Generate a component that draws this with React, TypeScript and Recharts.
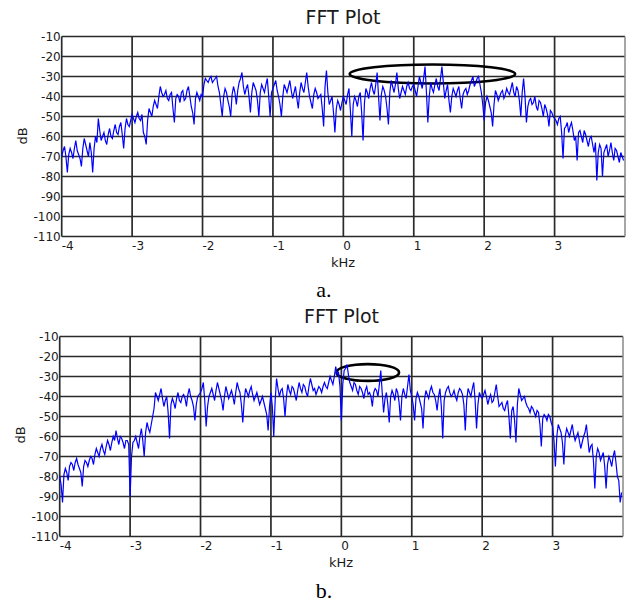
import { LineChart, Line, XAxis, YAxis, CartesianGrid, ReferenceLine, ReferenceArea } from "recharts";

// FFT bins: 0.02 kHz apart, starting at -4 kHz (one row = 1 kHz)
const startKHz = -4;
const binKHz = 0.02;

const xTicks = [-4, -3, -2, -1, 0, 1, 2, 3];
const yTicks = [-10, -20, -30, -40, -50, -60, -70, -80, -90, -100, -110];

// plot a. magnitude (dB)
const dbA = [
	-70, -67, -65, -70, -78, -69, -66, -68, -71, -66, -62, -67, -69, -71, -75, -66, -61, -64, -67, -70, -63, -68, -78, -66, -60, -63, -51, -57, -62, -60, -58, -62, -64, -59, -56, -60, -61, -57, -54, -58, -59, -55, -53, -59, -66, -56, -51, -54, -55, -52,
	-49, -51, -53, -50, -48, -51, -52, -49, -58, -60, -64, -52, -46, -48, -50, -45, -42, -44, -46, -40, -35, -38, -40, -39, -37, -41, -42, -39, -38, -46, -53, -41, -39, -40, -43, -38, -37, -42, -41, -37, -35, -40, -45, -48, -54, -41, -38, -40, -42, -39,
	-40, -34, -31, -32, -33, -31, -30, -33, -32, -31, -30, -35, -38, -44, -50, -40, -36, -38, -42, -45, -50, -39, -35, -38, -44, -37, -33, -31, -28, -35, -39, -36, -34, -40, -48, -38, -33, -35, -37, -42, -50, -38, -34, -36, -38, -34, -31, -40, -50, -38,
	-36, -34, -32, -37, -40, -44, -50, -40, -34, -36, -38, -35, -32, -37, -41, -38, -35, -41, -46, -38, -33, -36, -38, -33, -28, -35, -40, -43, -46, -39, -36, -38, -41, -40, -39, -46, -55, -35, -27, -38, -44, -42, -40, -48, -58, -46, -42, -44, -47, -43,
	-40, -42, -44, -39, -36, -47, -60, -44, -40, -42, -45, -40, -38, -48, -62, -43, -36, -38, -41, -36, -33, -37, -39, -34, -28, -40, -52, -39, -35, -37, -40, -46, -54, -38, -32, -35, -38, -34, -28, -36, -41, -38, -35, -37, -39, -35, -33, -36, -37, -35,
	-34, -37, -40, -35, -30, -33, -36, -31, -25, -38, -53, -40, -33, -36, -38, -34, -31, -35, -37, -31, -25, -33, -41, -37, -34, -42, -48, -40, -36, -38, -40, -37, -35, -41, -46, -39, -37, -36, -39, -37, -34, -32, -30, -35, -33, -31, -30, -34, -38, -44,
	-52, -43, -40, -42, -45, -48, -55, -44, -37, -39, -42, -40, -38, -37, -41, -39, -36, -38, -39, -36, -33, -38, -40, -35, -37, -42, -50, -38, -31, -40, -53, -45, -42, -41, -44, -43, -40, -45, -47, -42, -43, -46, -50, -44, -46, -49, -55, -47, -48, -50,
	-51, -52, -54, -51, -50, -58, -71, -56, -55, -53, -58, -55, -53, -57, -62, -60, -72, -58, -57, -60, -63, -57, -59, -62, -65, -61, -60, -64, -68, -63, -82, -68, -64, -66, -80, -68, -66, -64, -70, -67, -63, -68, -72, -66, -67, -70, -73, -68, -70, -72,
];

// plot b. magnitude (dB)
const dbB = [
	-80, -84, -93, -79, -76, -78, -82, -75, -73, -74, -77, -73, -71, -74, -76, -78, -85, -75, -72, -73, -75, -72, -70, -71, -74, -69, -66, -68, -70, -66, -64, -67, -69, -65, -62, -64, -67, -63, -60, -62, -57, -61, -64, -60, -61, -63, -66, -62, -62, -64,
	-90, -70, -63, -62, -60, -63, -66, -60, -56, -62, -70, -58, -53, -56, -58, -54, -50, -46, -38, -40, -42, -39, -36, -41, -45, -42, -40, -48, -61, -44, -41, -43, -46, -41, -38, -42, -43, -40, -39, -41, -45, -39, -36, -40, -42, -45, -52, -44, -40, -39,
	-38, -36, -33, -42, -55, -45, -40, -38, -36, -39, -42, -37, -33, -36, -39, -42, -47, -40, -35, -38, -41, -39, -37, -40, -44, -38, -33, -36, -38, -44, -53, -42, -36, -38, -40, -37, -35, -39, -42, -40, -38, -41, -44, -42, -40, -43, -46, -49, -57, -45,
	-38, -45, -60, -42, -31, -36, -40, -37, -36, -41, -50, -40, -34, -37, -39, -35, -36, -39, -42, -37, -33, -36, -38, -34, -35, -38, -40, -35, -31, -34, -37, -36, -39, -37, -35, -36, -38, -35, -33, -35, -36, -33, -30, -32, -34, -30, -25, -29, -28, -35,
	-52, -34, -27, -26, -24, -29, -33, -35, -37, -33, -34, -37, -39, -35, -36, -38, -41, -37, -35, -39, -38, -40, -45, -38, -36, -37, -40, -34, -27, -38, -48, -41, -38, -44, -53, -40, -37, -39, -42, -36, -38, -43, -52, -40, -36, -39, -41, -35, -29, -37,
	-40, -44, -52, -41, -38, -40, -43, -46, -56, -42, -37, -39, -41, -37, -35, -38, -39, -42, -47, -40, -36, -45, -61, -42, -38, -36, -35, -38, -40, -39, -37, -40, -42, -38, -36, -37, -39, -44, -57, -42, -36, -38, -40, -36, -33, -42, -56, -44, -38, -40,
	-41, -39, -37, -40, -44, -41, -39, -43, -42, -38, -34, -40, -45, -44, -43, -46, -47, -44, -42, -50, -61, -47, -45, -52, -63, -44, -36, -39, -42, -41, -40, -43, -45, -46, -48, -45, -46, -48, -50, -47, -48, -54, -65, -51, -49, -50, -52, -49, -50, -53,
	-55, -62, -75, -60, -54, -56, -58, -63, -74, -60, -56, -58, -60, -57, -54, -59, -62, -60, -58, -62, -66, -63, -60, -58, -54, -61, -68, -65, -64, -72, -86, -70, -66, -68, -72, -70, -68, -75, -86, -74, -70, -72, -75, -70, -67, -73, -80, -82, -93, -88,
];

// circled regions (kHz / dB)
const markA = { x1: 0.09, x2: 2.44, y1: -33.5, y2: -24 };
const markB = { x1: -0.07, x2: 0.82, y1: -32.2, y2: -23.8 };

const toRows = (db: number[]) => db.map((v, i) => ({ k: +(startKHz + i * binKHz).toFixed(2), db: v }));

const font = "'DejaVu Sans', sans-serif";

const XTick = (props: any) => (
	<text x={props.x} y={props.y} dy={13} textAnchor="start" fontSize={12} fontFamily={font} fill="#1a1a1a">
		{props.payload.value}
	</text>
);

const Ellipse = (p: any) => (
	<ellipse
		cx={p.x + p.width / 2}
		cy={p.y + p.height / 2}
		rx={p.width / 2}
		ry={p.height / 2}
		fill="none"
		stroke="#000"
		strokeWidth={2.6}
	/>
);

const FftPlot = ({ db, mark, top, left, right }: any) => (
	<div style={{ position: "absolute", left: 0, top }}>
		<LineChart width={629} height={270} data={toRows(db)} margin={{ top: 36.5, right: right, left: 0, bottom: 8.5 }}>
			<CartesianGrid stroke="#2a2a2a" strokeWidth={1.7} horizontalValues={yTicks} verticalValues={xTicks} />
			<XAxis
				type="number"
				dataKey="k"
				domain={[-4, 4]}
				ticks={xTicks}
				interval={0}
				tick={<XTick />}
				tickLine={false}
				axisLine={false}
				tickSize={0}
				tickMargin={0}
				height={25}
			/>
			<YAxis
				domain={[-110, -10]}
				ticks={yTicks}
				interval={0}
				tickLine={false}
				axisLine={false}
				tickSize={0}
				tickMargin={1}
				width={left}
				tick={{ fontSize: 12, fontFamily: font, fill: "#1a1a1a" }}
			/>
			<ReferenceLine x={4} stroke="#888" strokeWidth={1.5} />
			<Line type="linear" dataKey="db" stroke="#0000ff" strokeWidth={1.2} dot={false} isAnimationActive={false} />
			<ReferenceArea x1={mark.x1} x2={mark.x2} y1={mark.y1} y2={mark.y2} shape={<Ellipse />} />
		</LineChart>
	</div>
);

export default function App() {
	return (
		<div style={{ position: "absolute", left: 0, top: 0, width: 629, height: 602, background: "#fff", overflow: "hidden" }}>
			<FftPlot db={dbA} mark={markA} top={0} left={61.7} right={4} />
			<FftPlot db={dbB} mark={markB} top={300} left={59.7} right={6} />
			<svg width={629} height={602} style={{ position: "absolute", left: 0, top: 0, pointerEvents: "none" }}>
				<g fontFamily={font} fill="#1a1a1a">
					<text x={343} y={24} fontSize={19} textAnchor="middle">FFT Plot</text>
					<text x={343} y={267} fontSize={13} textAnchor="middle">kHz</text>
					<text transform="translate(27,136) rotate(-90)" fontSize={13} textAnchor="middle">dB</text>
					<text x={341.5} y={323} fontSize={19} textAnchor="middle">FFT Plot</text>
					<text x={341} y={567} fontSize={13} textAnchor="middle">kHz</text>
					<text transform="translate(25,435) rotate(-90)" fontSize={13} textAnchor="middle">dB</text>
				</g>
				<g fontFamily="'Liberation Serif', 'Times New Roman', serif" fill="#000" fontSize={22}>
					<text x={324} y={297} textAnchor="middle">a.</text>
					<text x={324} y={598} textAnchor="middle">b.</text>
				</g>
			</svg>
		</div>
	);
}
